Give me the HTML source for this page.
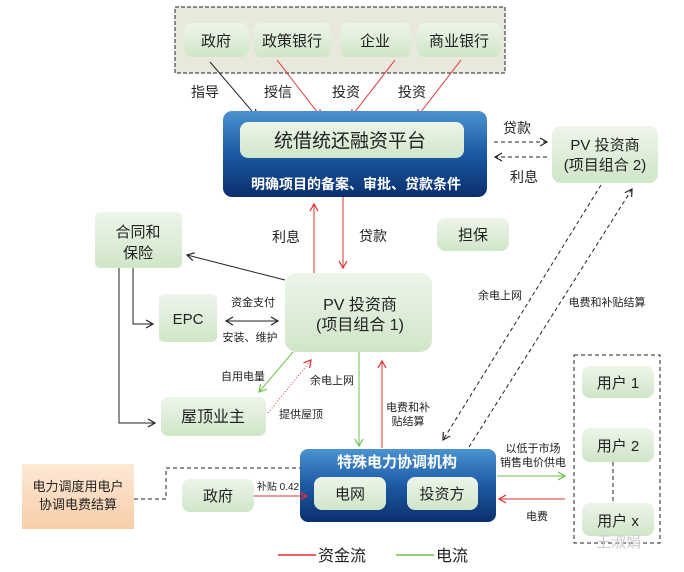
<!DOCTYPE html>
<html><head><meta charset="utf-8"><style>
html,body{margin:0;padding:0;background:#fff;}
svg{display:block;font-family:"Liberation Sans","Noto Sans CJK SC",sans-serif;}
</style></head><body>
<svg width="684" height="572" viewBox="0 0 684 572" xmlns="http://www.w3.org/2000/svg">
<defs>
<linearGradient id="g" x1="0" y1="0" x2="0" y2="1"><stop offset="0" stop-color="#eef5ea"/><stop offset="1" stop-color="#cfe6c8"/></linearGradient>
<linearGradient id="b" x1="0" y1="0" x2="0" y2="1"><stop offset="0" stop-color="#4b93d1"/><stop offset="0.5" stop-color="#1c5aa3"/><stop offset="1" stop-color="#0a2f6e"/></linearGradient>
<linearGradient id="o" x1="0" y1="0" x2="0" y2="1"><stop offset="0" stop-color="#fde9d6"/><stop offset="1" stop-color="#f8cda8"/></linearGradient>
<marker id="ak" markerWidth="10" markerHeight="10" refX="8" refY="5" orient="auto" markerUnits="userSpaceOnUse"><path d="M1,1 L8,5 L1,9" fill="none" stroke="#222" stroke-width="1.2"/></marker>
<marker id="ar" markerWidth="10" markerHeight="10" refX="8" refY="5" orient="auto" markerUnits="userSpaceOnUse"><path d="M1,1 L8,5 L1,9" fill="none" stroke="#e03030" stroke-width="1.2"/></marker>
<marker id="ag" markerWidth="10" markerHeight="10" refX="8" refY="5" orient="auto" markerUnits="userSpaceOnUse"><path d="M1,1 L8,5 L1,9" fill="none" stroke="#6cc24a" stroke-width="1.2"/></marker>
<marker id="aks" markerWidth="10" markerHeight="10" refX="2" refY="5" orient="auto" markerUnits="userSpaceOnUse"><path d="M9,1 L2,5 L9,9" fill="none" stroke="#222" stroke-width="1.2"/></marker>
</defs>

<!-- top dashed group -->
<rect x="175" y="7" width="330" height="66" fill="#e8e8dc" stroke="#222" stroke-dasharray="4,2"/>
<g fill="url(#g)">
<rect x="184" y="23" width="65" height="34" rx="8"/>
<rect x="254" y="23" width="77" height="34" rx="8"/>
<rect x="340" y="23" width="71" height="34" rx="8"/>
<rect x="417" y="23" width="84" height="34" rx="8"/>
</g>
<g font-size="15" fill="#222" text-anchor="middle">
<text x="216" y="46">政府</text><text x="292" y="46">政策银行</text><text x="375" y="46">企业</text><text x="459" y="46">商业银行</text>
</g>
<g font-size="14" fill="#222" text-anchor="middle">
<text x="205" y="97">指导</text><text x="278" y="97">授信</text><text x="346" y="97">投资</text><text x="412" y="97">投资</text>
</g>
<line x1="210" y1="62" x2="257" y2="117" stroke="#222" marker-end="url(#ak)"/>
<line x1="277" y1="60" x2="321" y2="117" stroke="#e03030" marker-end="url(#ar)"/>
<line x1="395" y1="60" x2="351" y2="117" stroke="#e03030" marker-end="url(#ar)"/>
<line x1="461" y1="60" x2="417" y2="117" stroke="#e03030" marker-end="url(#ar)"/>

<!-- platform -->
<rect x="223" y="111" width="264" height="86" rx="9" fill="url(#b)"/>
<rect x="240" y="122" width="224" height="36" rx="8" fill="url(#g)"/>
<text x="350" y="147" font-size="19" text-anchor="middle" fill="#222">统借统还融资平台</text>
<text x="356" y="189" font-size="14" font-weight="bold" text-anchor="middle" fill="#fff">明确项目的备案、审批、贷款条件</text>

<!-- PV2 -->
<rect x="552" y="126" width="106" height="57" rx="9" fill="url(#g)"/>
<text x="605" y="150" font-size="15" text-anchor="middle" fill="#222">PV 投资商</text>
<text x="605" y="170" font-size="15" text-anchor="middle" fill="#222">(项目组合 2)</text>
<line x1="494" y1="142" x2="547" y2="142" stroke="#222" stroke-dasharray="4,3" marker-end="url(#ak)"/>
<line x1="547" y1="157" x2="495" y2="157" stroke="#222" stroke-dasharray="4,3" marker-end="url(#ak)"/>
<text x="517" y="133" font-size="14" text-anchor="middle" fill="#222">贷款</text>
<text x="524" y="182" font-size="14" text-anchor="middle" fill="#222">利息</text>

<!-- 合同和保险 -->
<rect x="95" y="212" width="87" height="56" rx="5" fill="url(#g)"/>
<text x="138" y="237" font-size="15" text-anchor="middle" fill="#222">合同和</text>
<text x="138" y="258" font-size="15" text-anchor="middle" fill="#222">保险</text>
<!-- 担保 -->
<rect x="437" y="218" width="72" height="33" rx="8" fill="url(#g)"/>
<text x="473" y="240" font-size="15" text-anchor="middle" fill="#222">担保</text>

<line x1="314" y1="273" x2="314" y2="204" stroke="#e03030" marker-end="url(#ar)"/>
<line x1="343" y1="197" x2="343" y2="268" stroke="#e03030" marker-end="url(#ar)"/>
<text x="286" y="242" font-size="14" text-anchor="middle" fill="#222">利息</text>
<text x="373" y="241" font-size="14" text-anchor="middle" fill="#222">贷款</text>

<!-- PV1 -->
<rect x="285" y="273" width="147" height="79" rx="12" fill="url(#g)"/>
<text x="360" y="310" font-size="16" text-anchor="middle" fill="#222">PV 投资商</text>
<text x="360" y="330" font-size="16" text-anchor="middle" fill="#222">(项目组合 1)</text>
<line x1="285" y1="280" x2="187" y2="255" stroke="#222" marker-end="url(#ak)"/>

<!-- EPC -->
<rect x="159" y="294" width="58" height="48" rx="5" fill="url(#g)"/>
<text x="188" y="324" font-size="15" text-anchor="middle" fill="#222">EPC</text>
<!-- 屋顶业主 -->
<rect x="161" y="397" width="105" height="39" rx="7" fill="url(#g)"/>
<text x="213" y="422" font-size="16" text-anchor="middle" fill="#222">屋顶业主</text>

<path d="M133,268 V324 H153" fill="none" stroke="#222" marker-end="url(#ak)"/>
<path d="M119,268 V423 H155" fill="none" stroke="#222" marker-end="url(#ak)"/>

<line x1="226" y1="321" x2="278" y2="321" stroke="#222" marker-start="url(#aks)" marker-end="url(#ak)"/>
<text x="253" y="306" font-size="11" text-anchor="middle" fill="#222">资金支付</text>
<text x="250" y="341" font-size="11" text-anchor="middle" fill="#222">安装、维护</text>

<line x1="293" y1="352" x2="259" y2="392" stroke="#6cc24a" marker-end="url(#ag)"/>
<line x1="268" y1="413" x2="311" y2="360" stroke="#e03030" stroke-dasharray="1,2" marker-end="url(#ar)"/>
<text x="243" y="380" font-size="11" text-anchor="middle" fill="#222">自用电量</text>
<text x="332" y="384" font-size="11" text-anchor="middle" fill="#222">余电上网</text>
<text x="301" y="418" font-size="11" text-anchor="middle" fill="#222">提供屋顶</text>

<line x1="359" y1="352" x2="359" y2="446" stroke="#6cc24a" marker-end="url(#ag)"/>
<line x1="382" y1="448" x2="382" y2="361" stroke="#e03030" marker-end="url(#ar)"/>
<text x="408" y="411" font-size="11" text-anchor="middle" fill="#222">电费和补</text>
<text x="408" y="425" font-size="11" text-anchor="middle" fill="#222">贴结算</text>

<!-- diagonals -->
<line x1="601" y1="185" x2="443" y2="440" stroke="#222" stroke-dasharray="4,3" marker-end="url(#ak)"/>
<line x1="469" y1="447" x2="632" y2="189" stroke="#222" stroke-dasharray="4,3" marker-end="url(#ak)"/>
<text x="500" y="299" font-size="11" text-anchor="middle" fill="#222">余电上网</text>
<text x="607" y="306" font-size="11" text-anchor="middle" fill="#222">电费和补贴结算</text>

<!-- users -->
<rect x="574" y="355" width="86" height="188" fill="none" stroke="#222" stroke-dasharray="4,3"/>
<g fill="url(#g)">
<rect x="582" y="366" width="72" height="32" rx="8"/>
<rect x="582" y="428" width="72" height="34" rx="8"/>
<rect x="582" y="503" width="72" height="33" rx="8"/>
</g>
<line x1="613" y1="462" x2="613" y2="503" stroke="#222" stroke-dasharray="4,3"/>
<g font-size="15" fill="#222" text-anchor="middle">
<text x="618" y="388">用户 1</text><text x="618" y="451">用户 2</text><text x="618" y="526">用户 x</text>
</g>

<!-- special agency -->
<rect x="300" y="449" width="196" height="73" rx="8" fill="url(#b)"/>
<text x="397" y="467" font-size="15" font-weight="bold" text-anchor="middle" fill="#fff">特殊电力协调机构</text>
<rect x="314" y="477" width="72" height="33" rx="8" fill="url(#g)"/>
<rect x="407" y="477" width="71" height="33" rx="8" fill="url(#g)"/>
<text x="350" y="499" font-size="15" text-anchor="middle" fill="#222">电网</text>
<text x="442" y="499" font-size="15" text-anchor="middle" fill="#222">投资方</text>

<line x1="497" y1="476" x2="565" y2="476" stroke="#6cc24a" marker-end="url(#ag)"/>
<line x1="565" y1="499" x2="499" y2="499" stroke="#e03030" marker-end="url(#ar)"/>
<text x="533" y="452" font-size="11" text-anchor="middle" fill="#222">以低于市场</text>
<text x="533" y="466" font-size="11" text-anchor="middle" fill="#222">销售电价供电</text>
<text x="537" y="520" font-size="11" text-anchor="middle" fill="#222">电费</text>

<!-- orange -->
<rect x="22" y="464" width="112" height="65" fill="url(#o)"/>
<text x="78" y="491" font-size="13" text-anchor="middle" fill="#222">电力调度用电户</text>
<text x="78" y="509" font-size="13" text-anchor="middle" fill="#222">协调电费结算</text>
<path d="M134,499 H166 V468 H300" fill="none" stroke="#222" stroke-dasharray="4,3"/>

<!-- 政府 bottom -->
<rect x="182" y="479" width="72" height="33" rx="8" fill="url(#g)"/>
<text x="218" y="501" font-size="15" text-anchor="middle" fill="#222">政府</text>
<line x1="254" y1="496" x2="307" y2="496" stroke="#e03030" marker-end="url(#ar)"/>
<text x="278" y="490" font-size="10" text-anchor="middle" fill="#222">补贴 0.42</text>

<!-- legend -->
<line x1="278" y1="555" x2="316" y2="555" stroke="#e03030" stroke-width="1.5"/>
<text x="318" y="561" font-size="16" fill="#222">资金流</text>
<line x1="396" y1="555" x2="434" y2="555" stroke="#6cc24a" stroke-width="1.5"/>
<text x="436" y="561" font-size="16" fill="#222">电流</text>
<text x="596" y="547" font-size="15" fill="#ccc">王淑娟</text>
</svg>
</body></html>
